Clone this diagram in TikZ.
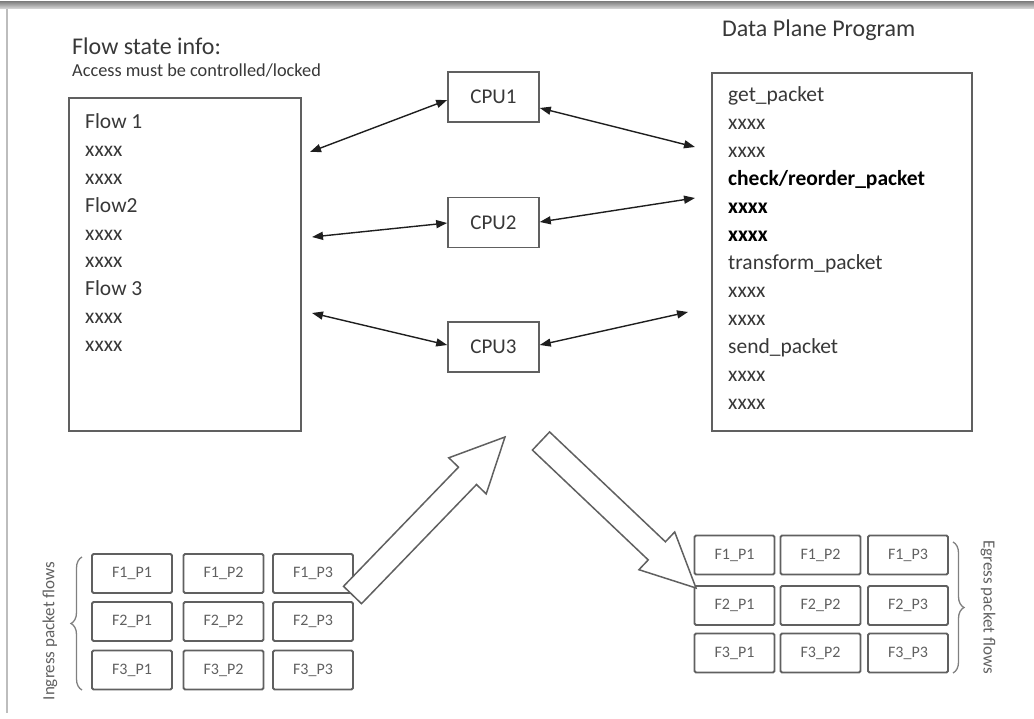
\documentclass[tikz,border=0pt]{standalone}
\usepackage{fontspec}
\setmainfont{Carlito}
\usetikzlibrary{calc,arrows.meta,decorations.pathreplacing}

\definecolor{ink}{HTML}{383838}
\definecolor{edge}{HTML}{606060}
\definecolor{wire}{HTML}{1E1E1E}
\definecolor{frame}{HTML}{BDBDBD}

% hollow block arrow from base point #1 to tip point #2
\newcommand\hollowarrow[2]{%
  \coordinate (ab) at #1;
  \coordinate (at) at #2;
  \coordinate (an) at ($(at)!54pt!(ab)$);
  \draw[blockarrow]
    ($(ab)!12.5pt!90:(at)$) -- ($(an)!12.5pt!-90:(ab)$) --
    ($(an)!26pt!-90:(ab)$) -- (at) --
    ($(an)!26pt!90:(ab)$) -- ($(an)!12.5pt!90:(ab)$) --
    ($(ab)!12.5pt!-90:(at)$) -- cycle;
}

\begin{document}
\begin{tikzpicture}[x=1pt,y=-1pt,
  every node/.style={text=ink},
  bigbox/.style={draw=edge,line width=1.8pt,inner sep=0pt,anchor=north west},
  cpubox/.style={draw=edge,line width=1.6pt,minimum width=91pt,minimum height=50pt,
    inner sep=0pt,font=\fontsize{21}{24}\selectfont},
  listline/.style={anchor=base west,inner sep=0pt,font=\fontsize{21.5}{26}\selectfont},
  pkt/.style={draw=edge,line width=1.8pt,rounded corners=1.5pt,minimum width=80pt,
    minimum height=39pt,inner sep=0pt,font=\fontsize{16}{18}\selectfont,text=edge},
  link/.style={draw=wire,line width=1.4pt,{Triangle[length=11pt,width=8pt]}-{Triangle[length=11pt,width=8pt]}},
  blockarrow/.style={draw=edge,line width=1.5pt,fill=white,line join=miter},
  brace/.style={draw=edge!80,line width=1.3pt,decorate,decoration={brace,amplitude=11pt}},
  sidelabel/.style={inner sep=0pt,font=\fontsize{17}{19}\selectfont,text=edge}
]
\useasboundingbox (0,0) rectangle (1034,719);

% page frame
\shade[top color={rgb,255:red,135;green,135;blue,135},
       bottom color={rgb,255:red,220;green,220;blue,220}] (0,2) rectangle (1034,9);
\draw[frame,line width=2pt] (6.5,9) -- (6.5,713);

% headings
\node[anchor=base west,inner sep=0pt,font=\fontsize{24}{28}\selectfont] (flowhead) at (72,55) {Flow state info:};
\node[anchor=base west,inner sep=0pt,font=\fontsize{18.3}{21}\selectfont] (flownote) at (72,77) {Access must be controlled/locked};
\node[anchor=base west,inner sep=0pt,font=\fontsize{24}{28}\selectfont] (dphead) at (722,37) {Data Plane Program};

% flow state table
\node[bigbox,minimum width=232pt,minimum height=333pt] (flows) at (68,97) {};
\foreach \t [count=\i from 0] in {Flow 1,xxxx,xxxx,Flow2,xxxx,xxxx,Flow 3,xxxx,xxxx}
  \node[listline] (fl\i) at (85,129+27.8*\i) {\t};

% data plane program listing
\node[bigbox,minimum width=260pt,minimum height=358pt] (prog) at (711,72) {};
\foreach \t [count=\i from 0] in {get\_packet,xxxx,xxxx,
    \textbf{\color{black}check/reorder\_packet},\textbf{\color{black}xxxx},\textbf{\color{black}xxxx},
    transform\_packet,xxxx,xxxx,send\_packet,xxxx,xxxx}
  \node[listline] (pl\i) at (728,101.7+28.0*\i) {\t};

% processors
\node[cpubox] (cpu1) at (493.5,97) {CPU1};
\node[cpubox] (cpu2) at (493.5,222.5) {CPU2};
\node[cpubox] (cpu3) at (493.5,347) {CPU3};

% free ends next to the tables
\coordinate (l1) at (310,152);
\coordinate (r1) at (695,147);
\coordinate (l2) at (312,237);
\coordinate (r2) at (695,198);
\coordinate (l3) at (312,313);
\coordinate (r3) at (688,312);

\draw[link] (l1) -- ($(cpu1.west)+(0,3)$);
\draw[link] ($(cpu1.east)+(0,11)$) -- (r1);
\draw[link] (l2) -- ($(cpu2.west)+(0,0.5)$);
\draw[link] ($(cpu2.east)+(0,-0.5)$) -- (r2);
\draw[link] (l3) -- ($(cpu3.west)+(0,-2)$);
\draw[link] ($(cpu3.east)+(0,-2)$) -- (r3);

% ingress packets
\foreach \r/\y in {1/573.5,2/621.5,3/670}
  \foreach \c/\x in {1/132,2/223.5,3/313}
    \node[pkt] (in\r\c) at (\x,\y) {F\r\_P\c};
\draw[brace] (82,690) -- (82,557);
\node[sidelabel,rotate=90] (inlabel) at (50,631) {Ingress packet flows};

% egress packets
\foreach \r/\y in {1/555,2/605.5,3/653}
  \foreach \c/\x in {1/734.5,2/820.5,3/908}
    \node[pkt] (out\r\c) at (\x,\y) {F\r\_P\c};
\draw[brace] (953,542) -- (953,673);
\node[sidelabel,rotate=-90] (outlabel) at (988,607) {Egress packet flows};

% packets in and out of the processors
\hollowarrow{(352.5,595)}{(505,437)}
\hollowarrow{(541,441)}{(696,588)}

\end{tikzpicture}
\end{document}
